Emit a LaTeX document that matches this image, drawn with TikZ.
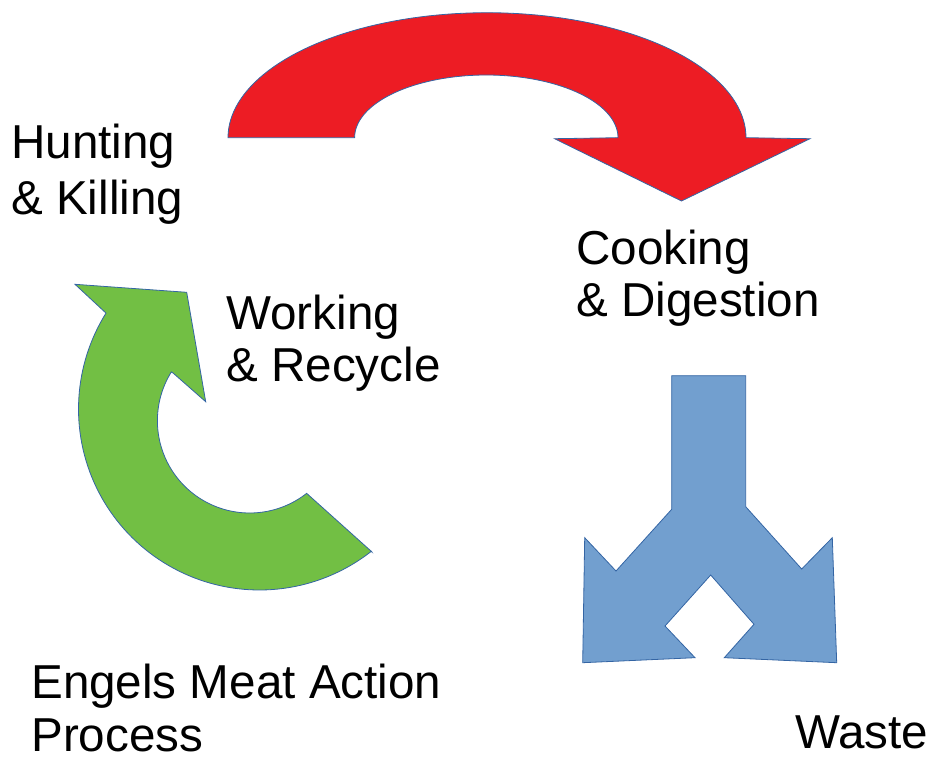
\documentclass[tikz,border=0pt]{standalone}
\usepackage{fontspec}
\setmainfont{Liberation Sans}
\definecolor{arrowred}{HTML}{ED1C24}
\definecolor{arrowgreen}{HTML}{72BF44}
\definecolor{arrowblue}{HTML}{729FCF}
\definecolor{edgeblue}{HTML}{3465A4}
\begin{document}
\begin{tikzpicture}[x=0.75pt,y=-0.75pt,
  arrowshape/.style={draw=edgeblue,line width=0.6pt,line join=miter},
  lbl/.style={anchor=base west,inner sep=0pt,font=\fontsize{35.7pt}{42pt}\selectfont,text=black}]
\useasboundingbox (0,0) rectangle (933,758);
% red curved arrow
\path[arrowshape,fill=arrowred] (228,137.7)
  -- plot[domain=180:0,samples=90] ({487+259*cos(\x)},{137.7-125*sin(\x)})
  -- (810,138.7) -- (681.5,201) -- (554.6,138.7) -- (618,137.7)
  -- plot[domain=0:180,samples=90] ({486.3+131.7*cos(\x)},{137.7-62.7*sin(\x)})
  -- cycle;
% green circular arrow
\path[arrowshape,fill=arrowgreen] (75,284.3) -- (186.7,292.3) -- (205.7,401.7) -- (172.7,372.7)
  -- plot[domain=148.1:308.1,samples=90] ({249.7+92.3*cos(\x)},{420.7-92.3*sin(\x)})
  -- (371.7,551.7)
  -- plot[domain=308.2:148,samples=90] ({259.5+181*cos(\x)},{409-181*sin(\x)})
  -- cycle;
% blue split arrow
\path[arrowshape,fill=arrowblue] (671.7,375.7) -- (745.7,375.7) -- (745.7,506.7)
  -- (801.7,569) -- (832.3,537.7) -- (836.7,662.7) -- (724.3,657.7)
  -- (754,624.3) -- (710.7,575) -- (665,626) -- (695,657.7)
  -- (582.7,662.7) -- (584.7,537.7) -- (616,571) -- (671.7,509.3) -- cycle;
% labels
\node[lbl] (hunt1) at (11,158.3) {Hunting};
\node[lbl] (hunt2) at (11,214) {\& Killing};
\node[lbl] (cook1) at (576,264) {Cooking};
\node[lbl] (cook2) at (576,316.7) {\& Digestion};
\node[lbl] (work1) at (226,329) {Working};
\node[lbl] (work2) at (226,381.7) {\& Recycle};
\node[lbl] (eng1) at (31,698.3) {Engels Meat Action};
\node[lbl] (eng2) at (31,751.7) {Process};
\node[lbl] (waste) at (795,748.3) {Waste};
\end{tikzpicture}
\end{document}
